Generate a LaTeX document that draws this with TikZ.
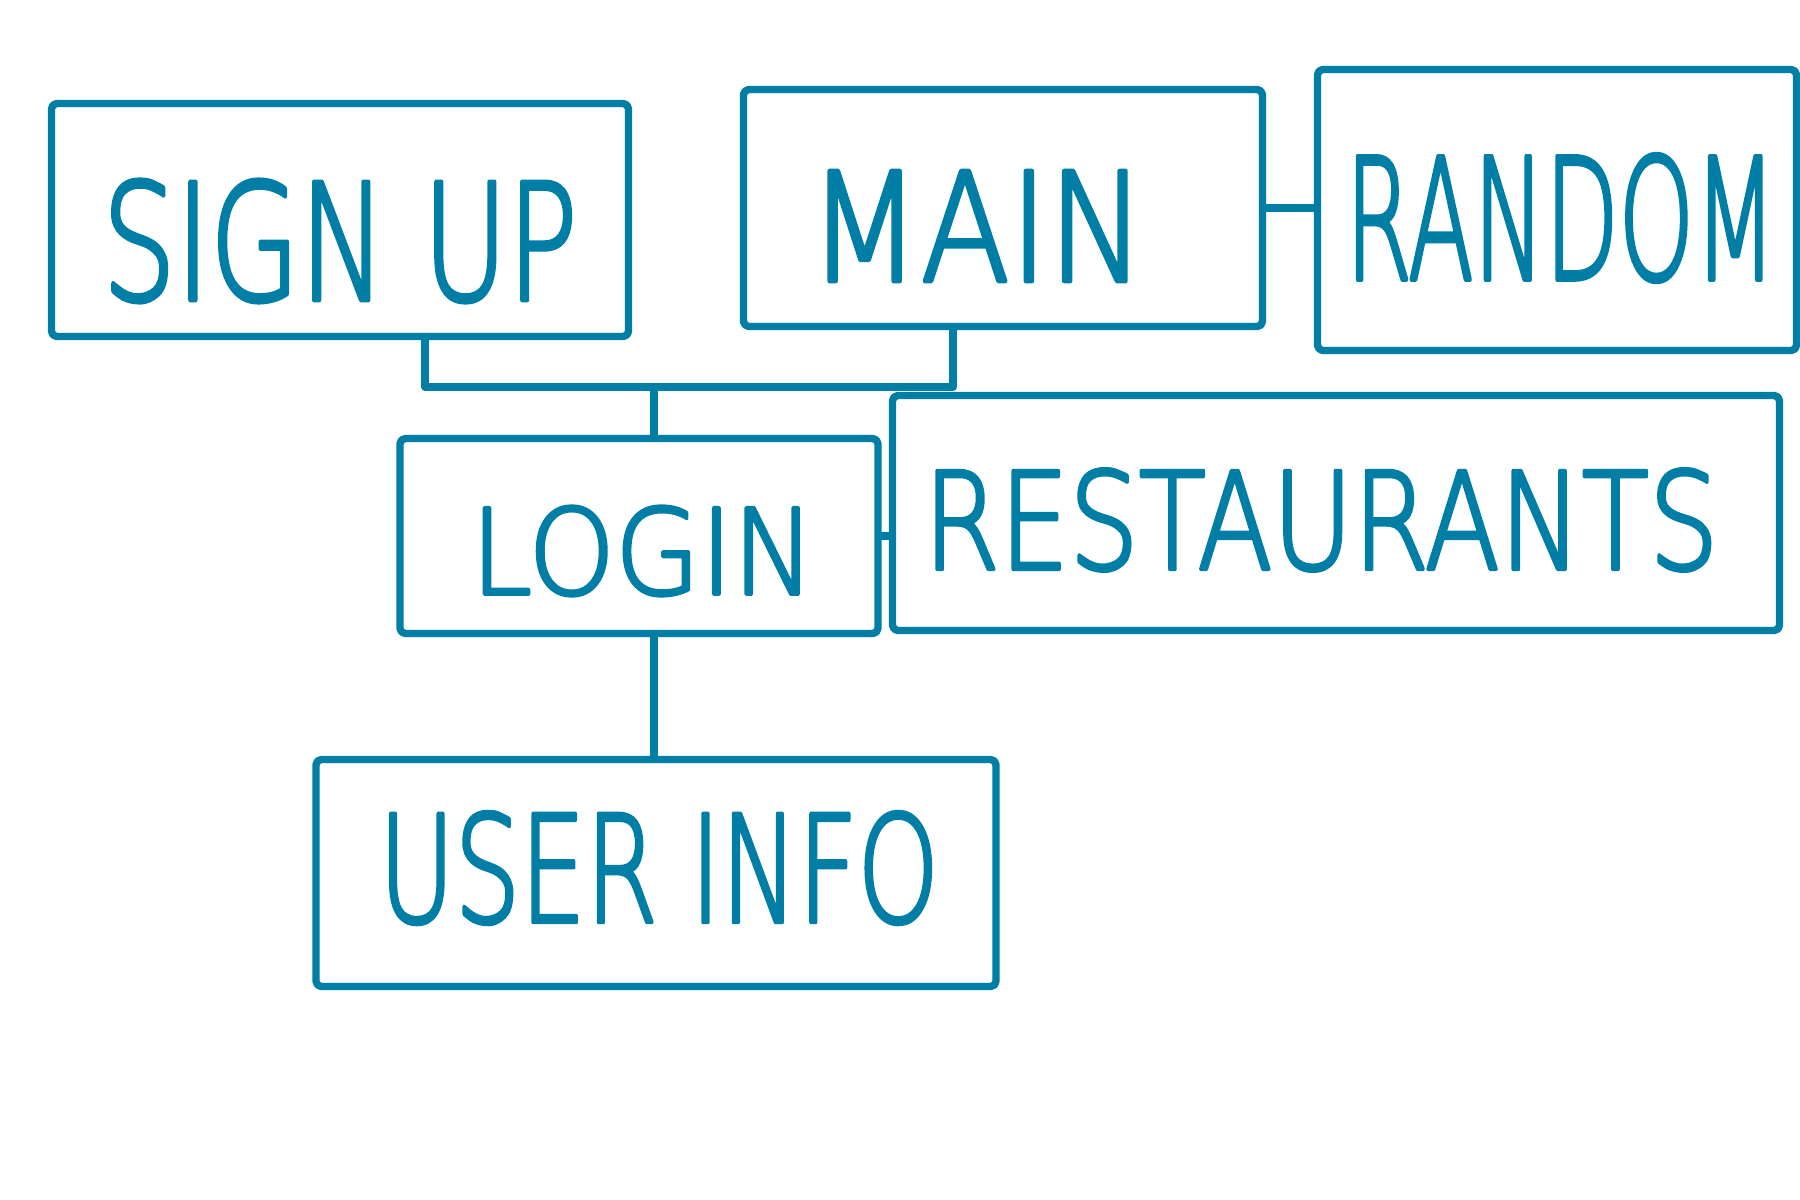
\documentclass[tikz,border=0pt]{standalone}
\usepackage{fontspec}
\newfontfamily\hand{DejaVu Sans ExtraLight}[FakeBold=3]
\definecolor{ink}{RGB}{0,126,166}
\tikzset{
  box/.style={draw=ink, line width=2.1pt, rounded corners=1.5pt, inner sep=0pt},
  link/.style={draw=ink, line width=2.1pt, line cap=round, line join=round},
  lbl/.style={text=ink, inner sep=0pt, font=\hand}
}
\newcommand{\hw}[3]{\resizebox{#1}{#2}{#3}}
\begin{document}
\begin{tikzpicture}[line cap=round, line join=round]
\useasboundingbox (0,0) rectangle (18,-12);
\fill[white] (0,0) rectangle (18,-12);
% boxes
\node[box, minimum width=5.77cm, minimum height=2.33cm] (signup) at (3.40,-2.20) {};
\node[box, minimum width=5.19cm, minimum height=2.37cm] (main) at (10.03,-2.08) {};
\node[box, minimum width=4.79cm, minimum height=2.81cm] (random) at (15.57,-2.10) {};
\node[box, minimum width=4.78cm, minimum height=1.95cm] (login) at (6.39,-5.36) {};
\node[box, minimum width=8.87cm, minimum height=2.35cm] (restaurants) at (13.36,-5.13) {};
\node[box, minimum width=6.80cm, minimum height=2.27cm] (userinfo) at (6.56,-8.73) {};
% labels
\node[lbl] (tsignup) at (3.40,-2.41) {\hw{4.75cm}{1.20cm}{SIGN UP}};
\node[lbl] (tmain) at (9.77,-2.26) {\hw{3.37cm}{1.10cm}{MAIN}};
\node[lbl] (trandom) at (15.61,-2.18) {\hw{4.31cm}{1.25cm}{RANDOM}};
\node[lbl] (tlogin) at (6.43,-5.51) {\hw{3.44cm}{0.88cm}{LOGIN}};
\node[lbl] (trest) at (13.21,-5.20) {\hw{7.95cm}{1.00cm}{RESTAURANTS}};
\node[lbl] (tuser) at (6.59,-8.68) {\hw{5.60cm}{1.10cm}{USER INFO}};
% junctions
\coordinate (j1) at (4.25,-3.87);
\coordinate (j2) at (9.53,-3.87);
\coordinate (j3) at (6.54,-3.87);
% connectors
\draw[link] (signup.south -| j1) -- (j1) -- (j2) -- (main.south -| j2);
\draw[link] (j3) -- (j3 |- login.north);
\draw[link] (main.east) -- (main.east -| random.west);
\draw[link] (login.east) -- (login.east -| restaurants.west);
\draw[link] (j3 |- login.south) -- (j3 |- userinfo.north);
\end{tikzpicture}
\end{document}
